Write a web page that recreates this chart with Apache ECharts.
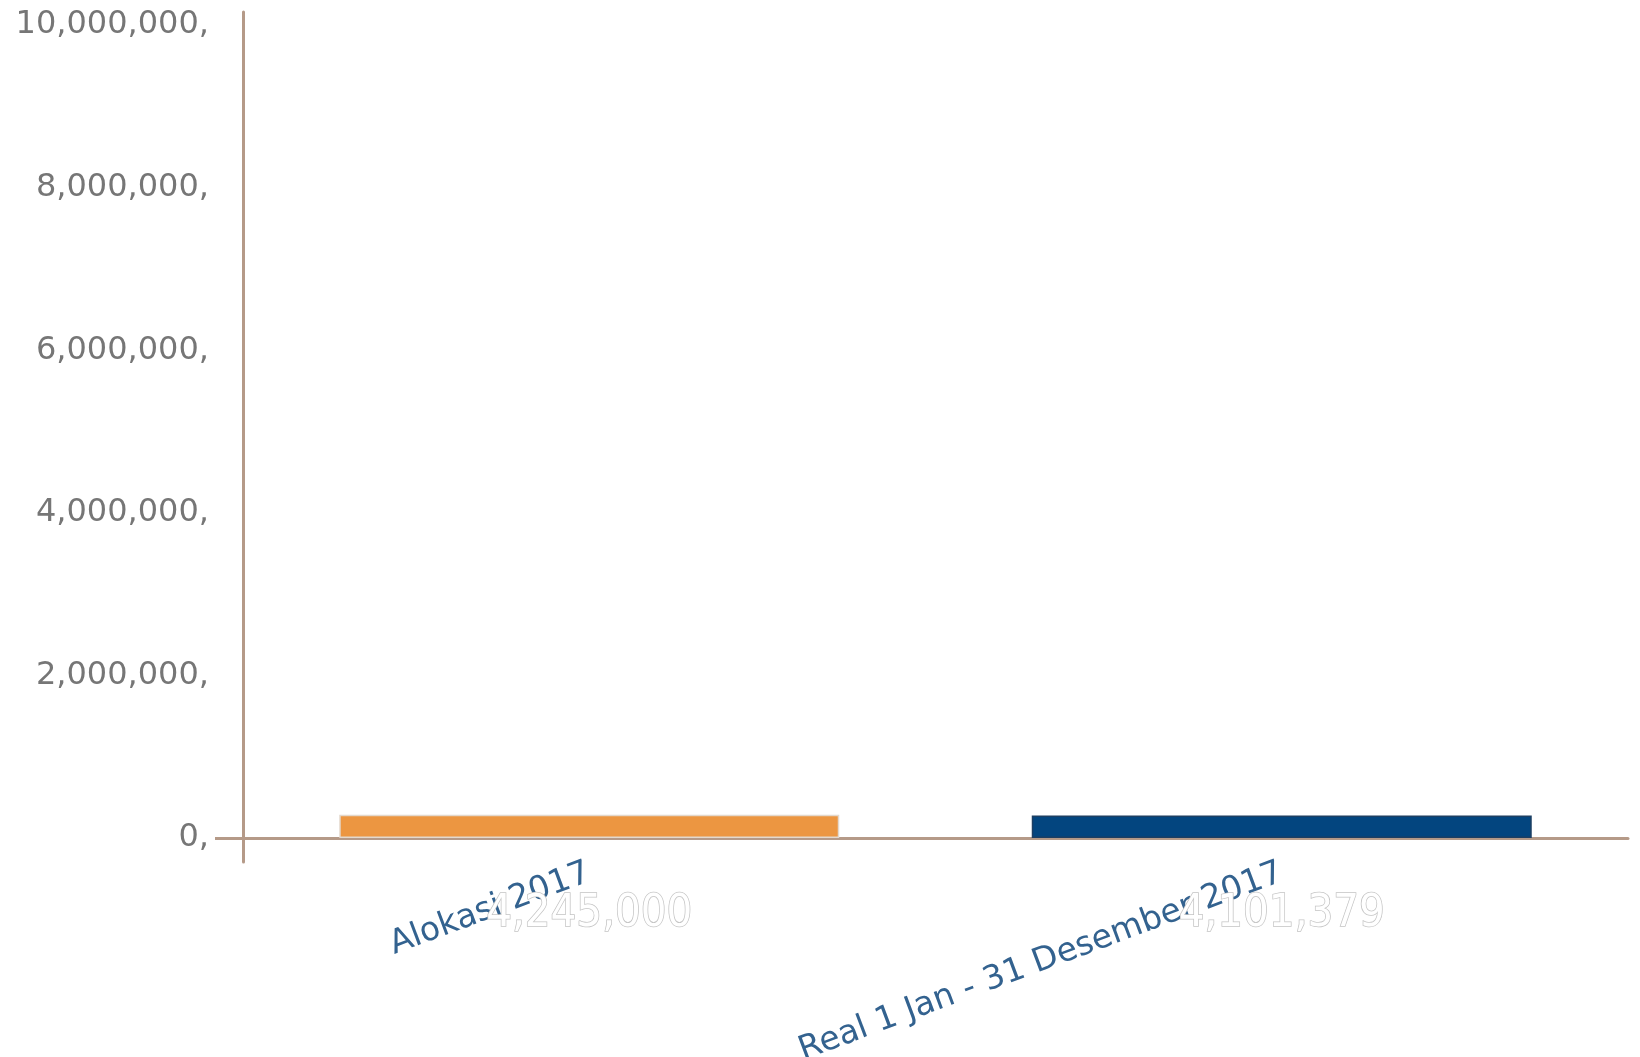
<!DOCTYPE html>
<html>
<head>
<meta charset="utf-8">
<script src="https://cdn.jsdelivr.net/npm/echarts@6/dist/echarts.min.js"></script>
<style>
html,body{margin:0;padding:0;background:#fff;}
#chart{width:1640px;height:1057px;}
</style>
</head>
<body>
<div id="chart"></div>
<script>
const categories = ['Alokasi 2017', 'Real 1 Jan - 31 Desember 2017'];
const barValues = [286000, 276000];
const valueLabels = ['4,245,000', '4,101,379'];
const barColors = ['#ec9641', '#03457f'];
const yTicks = [0, 2000000, 4000000, 6000000, 8000000, 10000000];

const axisColor = '#b59a88';
const chart = echarts.init(document.getElementById('chart'), null, {renderer: 'canvas'});
chart.setOption({
  animation: false,
  backgroundColor: '#fff',
  grid: {left: 243, right: 12, top: 12, bottom: 195, containLabel: false, outerBoundsMode: 'none'},
  xAxis: {
    type: 'category',
    data: categories,
    axisLine: {show: true, onZero: true, lineStyle: {color: axisColor, width: 3}},
    axisTick: {show: false},
    axisLabel: {
      rotate: 20.5, margin: 10, color: '#33628f',
      fontFamily: 'DejaVu Sans', fontSize: 33, interval: 0
    }
  },
  yAxis: {
    type: 'value',
    min: -295000,
    max: 10160000,
    splitLine: {show: false},
    axisLine: {show: true, onZero: false, lineStyle: {color: axisColor, width: 3}},
    axisTick: {show: true, customValues: [0], length: 28, lineStyle: {color: axisColor, width: 3}},
    axisLabel: {
      customValues: yTicks,
      margin: 34, color: '#767676',
      fontFamily: 'DejaVu Sans', fontSize: 32,
      formatter: function (v) { return v.toLocaleString('en-US') + ','; }
    }
  },
  series: [{
    type: 'bar',
    barWidth: 500,
    data: barValues.map(function (v, i) {
      return {
        value: v,
        itemStyle: {color: barColors[i], borderColor: i === 0 ? '#e3d8cc' : '#1d3f63', borderWidth: 1.5},
        label: {formatter: valueLabels[i]}
      };
    }),
    label: {
      show: true, position: 'bottom', distance: 54,
      color: '#ffffff', textBorderColor: '#c4c4c4', textBorderWidth: 1.5,
      fontFamily: 'DejaVu Sans Condensed', fontSize: 45
    }
  }]
});
</script>
</body>
</html>
